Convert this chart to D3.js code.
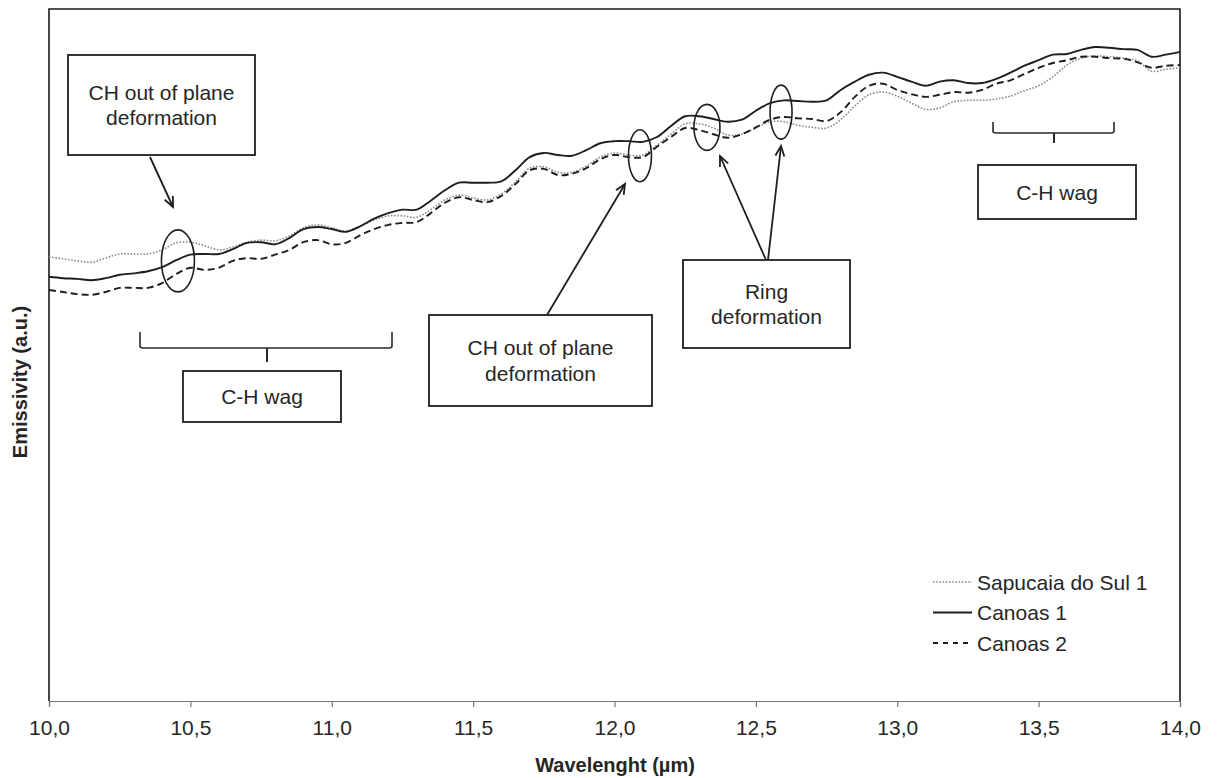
<!DOCTYPE html>
<html>
<head>
<meta charset="utf-8">
<script src="https://cdn.jsdelivr.net/npm/d3@7"></script>
<style>
  body { margin: 0; background: #fff; }
  svg text { font-family: "Liberation Sans", Arial, sans-serif; fill: #262626; }
</style>
</head>
<body>
<svg id="chart" width="1219" height="778"></svg>
<script>
// wavelength grid, 0.05 um steps from 10.0 to 14.0
const wavelengths = d3.range(0, 81).map(i => +(10 + i * 0.05).toFixed(2));

// emissivity (a.u.)
const sapucaia1 = [
  64.2, 63.9, 63.6, 63.4, 64.0, 64.6, 64.6, 64.6, 65.2, 66.2,
  66.3, 65.8, 65.2, 65.6, 66.3, 66.6, 66.5, 67.2, 68.4, 68.8,
  68.4, 67.9, 68.6, 69.5, 70.1, 70.1, 69.9, 71.0, 72.4, 73.1,
  72.7, 72.4, 73.3, 75.0, 77.0, 77.2, 76.4, 76.4, 77.3, 78.6,
  79.2, 78.9, 78.9, 80.3, 81.9, 83.4, 83.4, 82.8, 81.8, 81.9,
  82.8, 83.7, 83.7, 83.2, 82.9, 82.8, 84.0, 86.0, 87.6, 88.0,
  87.4, 86.4, 85.5, 85.7, 86.6, 86.8, 86.8, 87.0, 87.4, 88.2,
  88.9, 90.2, 91.9, 92.9, 93.2, 93.1, 92.9, 92.5, 91.0, 91.3,
  91.5
];
const canoas1 = [
  61.3, 61.1, 61.0, 60.8, 61.1, 61.6, 61.8, 62.1, 62.7, 63.7,
  64.5, 64.6, 64.6, 65.3, 66.2, 66.3, 66.0, 66.9, 68.2, 68.5,
  68.2, 67.8, 68.6, 69.7, 70.5, 71.0, 71.0, 72.3, 73.8, 74.9,
  74.9, 74.9, 75.1, 76.7, 78.6, 79.2, 78.9, 78.8, 79.6, 80.6,
  80.9, 80.9, 80.8, 81.5, 83.1, 84.5, 84.5, 84.1, 83.7, 84.0,
  85.3, 86.4, 86.8, 86.7, 86.6, 86.8, 88.3, 89.5, 90.5, 90.8,
  90.2, 89.5, 88.9, 89.5, 89.7, 89.3, 89.3, 89.9, 90.8, 91.8,
  92.6, 93.4, 93.5, 94.1, 94.5, 94.4, 94.2, 94.1, 93.1, 93.4,
  93.8
];
const canoas2 = [
  59.4, 59.1, 58.8, 58.7, 59.1, 59.7, 59.7, 59.7, 60.4, 61.7,
  62.6, 62.3, 62.6, 63.6, 64.0, 63.9, 64.5, 65.2, 66.3, 66.6,
  66.0, 66.2, 67.3, 68.2, 68.8, 69.1, 69.2, 70.5, 72.0, 72.8,
  72.4, 72.1, 73.0, 74.7, 76.7, 76.9, 76.0, 76.2, 77.0, 78.3,
  78.9, 78.6, 78.6, 80.1, 81.5, 82.8, 82.5, 81.9, 81.4, 81.9,
  82.9, 84.0, 84.4, 84.2, 84.1, 83.8, 85.1, 87.3, 88.9, 89.2,
  88.3, 87.7, 87.3, 87.6, 88.0, 87.9, 88.3, 89.2, 89.7, 90.6,
  91.5, 92.2, 92.6, 93.1, 93.1, 92.9, 92.8, 92.3, 91.5, 91.8,
  91.9
];
const seriesNames = ["Sapucaia do Sul 1", "Canoas 1", "Canoas 2"];
const xTicks = [10, 10.5, 11, 11.5, 12, 12.5, 13, 13.5, 14];

// marked bands: [wavelength, emissivity]
const ellipseCenters = [[10.456, 63.6], [12.09, 78.8], [12.327, 82.9], [12.589, 85.1]];

const margin = {top: 9, right: 39, bottom: 77, left: 49};
const width = 1219 - margin.left - margin.right,
      height = 778 - margin.top - margin.bottom;

const svg = d3.select("#chart");
const g = svg.append("g")
  .attr("transform", "translate(" + margin.left + "," + margin.top + ")");

const x = d3.scaleLinear().domain([10, 14]).range([0, width]);
const y = d3.scaleLinear().domain([0, 100]).range([height, 0]);

// plot frame
g.append("path")
  .attr("d", "M0," + height + "V0H" + width + "V" + height)
  .attr("fill", "none")
  .attr("stroke", "#1a1a1a")
  .attr("stroke-width", 1.6);

// x axis
const xAxis = g.append("g")
  .attr("transform", "translate(0," + height + ")")
  .call(d3.axisBottom(x)
    .tickValues(xTicks)
    .tickSize(6)
    .tickFormat(d => d3.format(".1f")(d).replace(".", ",")));
xAxis.select(".domain").attr("stroke", "#777").attr("stroke-width", 1.2);
xAxis.selectAll(".tick line").attr("stroke", "#777").attr("stroke-width", 1.2);
xAxis.selectAll(".tick text")
  .attr("y", 19)
  .attr("dy", "0.71em")
  .style("font-family", "'Liberation Sans', Arial, sans-serif")
  .style("font-size", "21px")
  .attr("fill", "#262626");

// axis titles
svg.append("text")
  .attr("x", 615).attr("y", 772)
  .attr("text-anchor", "middle")
  .style("font-size", "20px").style("font-weight", "bold")
  .attr("fill", "#111")
  .text("Wavelenght (µm)");

svg.append("text")
  .attr("transform", "translate(27,382) rotate(-90)")
  .attr("text-anchor", "middle")
  .style("font-size", "20px").style("font-weight", "bold")
  .attr("fill", "#111")
  .text("Emissivity (a.u.)");

// series
const styles = [
  {stroke: "#8a8a8a", width: 1.6, dash: "1.6,1.6"},
  {stroke: "#1e1e1e", width: 1.9, dash: null},
  {stroke: "#1e1e1e", width: 1.9, dash: "7,4"}
];
const allSeries = [sapucaia1, canoas1, canoas2];

const line = d3.line()
  .x((d, i) => x(wavelengths[i]))
  .y(d => y(d))
  .curve(d3.curveCatmullRom.alpha(0.5));

allSeries.forEach((vals, k) => {
  g.append("path")
    .datum(vals)
    .attr("fill", "none")
    .attr("stroke", styles[k].stroke)
    .attr("stroke-width", styles[k].width)
    .attr("stroke-dasharray", styles[k].dash)
    .attr("d", line);
});

// ellipses around bands
const ellipseRadii = [[16.5, 31], [11.5, 26], [13, 23], [11, 27]];
g.selectAll(".band")
  .data(ellipseCenters)
  .enter()
  .append("ellipse")
  .attr("class", "band")
  .attr("cx", d => x(d[0]))
  .attr("cy", d => y(d[1]))
  .attr("rx", (d, i) => ellipseRadii[i][0])
  .attr("ry", (d, i) => ellipseRadii[i][1])
  .attr("fill", "none")
  .attr("stroke", "#1e1e1e")
  .attr("stroke-width", 1.6);

// annotation boxes (page pixels)
const boxes = [
  {x0: 68, y0: 55, x1: 255, y1: 155, lines: ["CH out of plane", "deformation"]},
  {x0: 429, y0: 315, x1: 652, y1: 406, lines: ["CH out of plane", "deformation"]},
  {x0: 683, y0: 260, x1: 850, y1: 348, lines: ["Ring", "deformation"]},
  {x0: 183, y0: 371, x1: 341, y1: 422, lines: ["C-H wag"]},
  {x0: 978, y0: 165, x1: 1136, y1: 219, lines: ["C-H wag"]}
];
const ann = svg.append("g");
boxes.forEach(b => {
  ann.append("rect")
    .attr("x", b.x0).attr("y", b.y0)
    .attr("width", b.x1 - b.x0).attr("height", b.y1 - b.y0)
    .attr("fill", "#fff")
    .attr("stroke", "#1e1e1e")
    .attr("stroke-width", 1.8);
  const cy = (b.y0 + b.y1) / 2, lh = 25.5;
  b.lines.forEach((t, i) => {
    ann.append("text")
      .attr("x", (b.x0 + b.x1) / 2)
      .attr("y", cy + (i - (b.lines.length - 1) / 2) * lh)
      .attr("dy", "0.36em")
      .attr("text-anchor", "middle")
      .style("font-size", "21px")
      .text(t);
  });
});

// arrows: [from, to]
const arrows = [
  [[150, 157], [173, 207]],
  [[547, 315], [625, 184]],
  [[766, 260], [720, 156]],
  [[768, 260], [781, 146]]
];
arrows.forEach(a => {
  const [p, q] = a;
  const ang = Math.atan2(q[1] - p[1], q[0] - p[0]);
  const L = 11, spread = 0.42;
  ann.append("line")
    .attr("x1", p[0]).attr("y1", p[1]).attr("x2", q[0]).attr("y2", q[1])
    .attr("stroke", "#1e1e1e").attr("stroke-width", 1.8);
  ann.append("path")
    .attr("d", "M" + (q[0] - L * Math.cos(ang - spread)) + "," + (q[1] - L * Math.sin(ang - spread)) +
               "L" + q[0] + "," + q[1] +
               "L" + (q[0] - L * Math.cos(ang + spread)) + "," + (q[1] - L * Math.sin(ang + spread)))
    .attr("fill", "none").attr("stroke", "#1e1e1e").attr("stroke-width", 1.8);
});

// brackets
const brackets = [
  {x0: 140, x1: 392, top: 332, base: 348, mid: 267, tip: 362},
  {x0: 993, x1: 1114, top: 122, base: 133, mid: 1054, tip: 143}
];
brackets.forEach(b => {
  ann.append("path")
    .attr("d", "M" + b.x0 + "," + b.top + "V" + (b.base - 2) + "Q" + b.x0 + "," + b.base + " " + (b.x0 + 3) + "," + b.base +
               "H" + (b.x1 - 3) + "Q" + b.x1 + "," + b.base + " " + b.x1 + "," + (b.base - 2) + "V" + b.top)
    .attr("fill", "none").attr("stroke", "#2a2a2a").attr("stroke-width", 1.6);
  ann.append("path")
    .attr("d", "M" + b.mid + "," + b.base + "V" + b.tip)
    .attr("fill", "none").attr("stroke", "#2a2a2a").attr("stroke-width", 2);
});

// legend
const legend = svg.append("g").attr("transform", "translate(933,582)");
seriesNames.forEach((name, i) => {
  const row = legend.append("g").attr("transform", "translate(0," + (i * 30.5) + ")");
  row.append("line")
    .attr("x1", 0).attr("x2", 39).attr("y1", 0).attr("y2", 0)
    .attr("stroke", styles[i].stroke)
    .attr("stroke-width", styles[i].width)
    .attr("stroke-dasharray", i === 2 ? "5,5" : styles[i].dash);
  row.append("text")
    .attr("x", 44).attr("y", 0).attr("dy", "0.36em")
    .style("font-size", "21px")
    .text(name);
});
</script>
</body>
</html>
